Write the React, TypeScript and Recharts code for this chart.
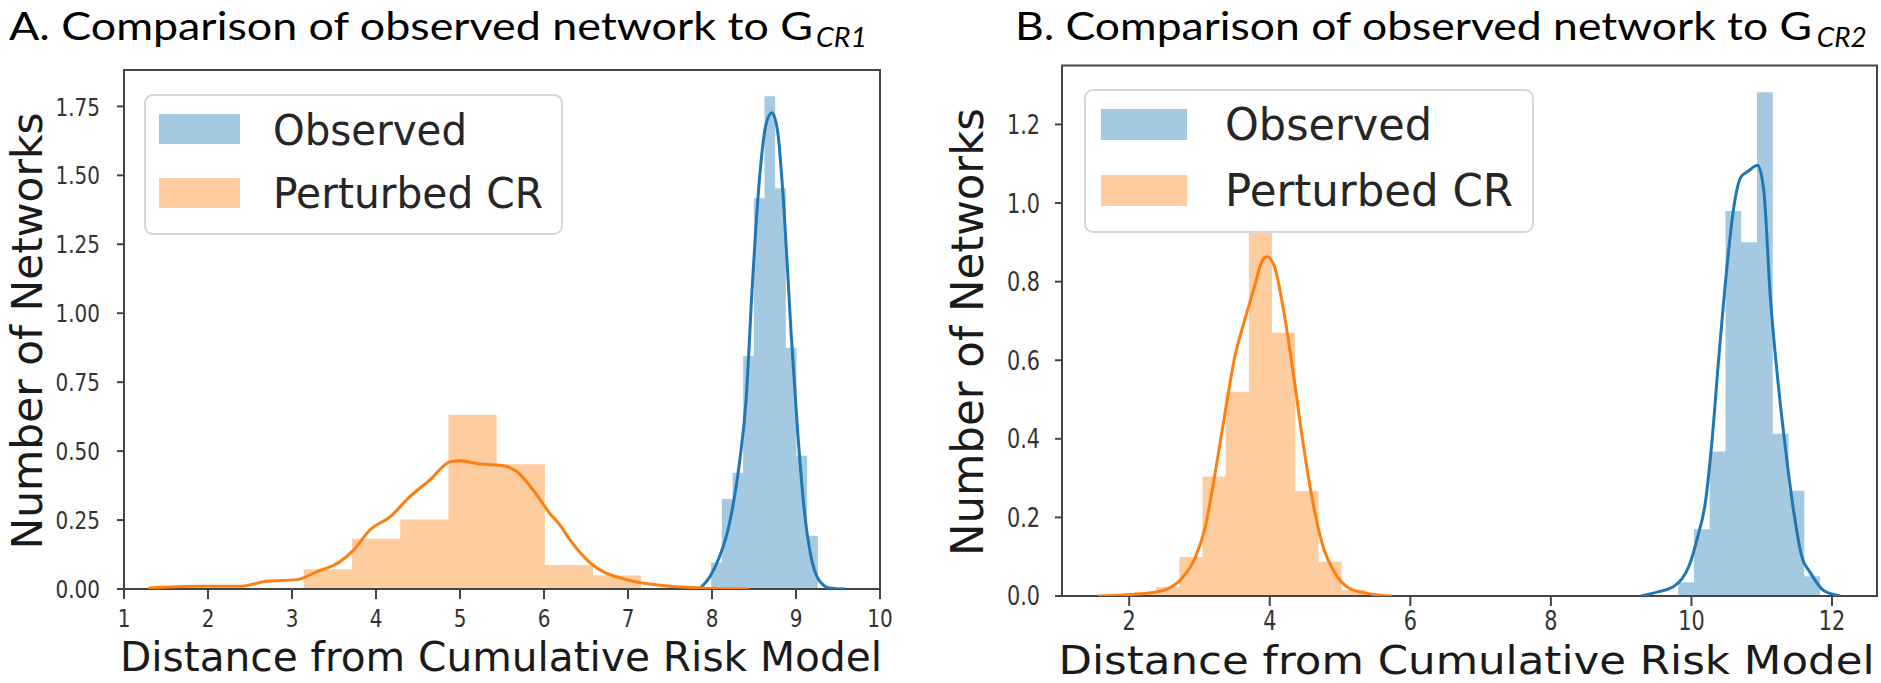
import React from "react";
import { ComposedChart, Area, Line, XAxis, YAxis, Legend, ReferenceArea } from "recharts";

const BLUE = "#1f77b4";
const ORANGE = "#ff7f0e";
const SPINE = "#444";
const MPL_FONT = "DejaVu Sans";

// ---- Panel A: observed vs G_CR1 ----
const aObsEdges = [7.99, 8.117, 8.244, 8.371, 8.498, 8.625, 8.752, 8.879, 9.006, 9.133, 9.26];
const aObsHeights = [0.096, 0.326, 0.422, 0.845, 1.417, 1.787, 1.453, 0.875, 0.483, 0.193];
const aPertEdges = [3.14, 3.714, 4.288, 4.862, 5.436, 6.01, 6.584, 7.158];
const aPertHeights = [0.072, 0.182, 0.252, 0.632, 0.452, 0.087, 0.049];

const aObsKdeX = [7.85, 7.97, 8.087, 8.206, 8.325, 8.405, 8.483, 8.563, 8.643, 8.714, 8.781, 8.861, 8.94, 9.019, 9.099, 9.18, 9.277, 9.396, 9.59];
const aObsKdeY = [0, 0.042, 0.115, 0.235, 0.453, 0.682, 1.117, 1.479, 1.685, 1.727, 1.66, 1.359, 0.936, 0.574, 0.284, 0.115, 0.03, 0.004, 0];
const aPertKdeX = [1.29, 1.9, 2.38, 2.7, 3.06, 3.29, 3.57, 3.73, 3.93, 4.17, 4.4, 4.64, 4.88, 5.0, 5.24, 5.48, 5.68, 5.87, 6.07, 6.19, 6.31, 6.55, 6.98, 7.38, 7.86, 8.44];
const aPertKdeY = [0.004, 0.01, 0.01, 0.028, 0.034, 0.062, 0.099, 0.14, 0.215, 0.262, 0.334, 0.395, 0.461, 0.465, 0.453, 0.449, 0.425, 0.359, 0.274, 0.232, 0.178, 0.095, 0.034, 0.014, 0.004, 0];

const aXTicks = [1, 2, 3, 4, 5, 6, 7, 8, 9, 10];
const aYTicks = [0, 0.25, 0.5, 0.75, 1.0, 1.25, 1.5, 1.75];

// ---- Panel B: observed vs G_CR2 ----
const bObsEdges = [9.81, 10.035, 10.259, 10.484, 10.708, 10.933, 11.157, 11.382, 11.606, 11.831];
const bObsHeights = [0.035, 0.17, 0.368, 0.98, 0.9, 1.282, 0.413, 0.268, 0.05];
const bPertEdges = [2.053, 2.383, 2.713, 3.043, 3.373, 3.703, 4.033, 4.363, 4.693, 5.023, 5.353];
const bPertHeights = [0.008, 0.023, 0.099, 0.304, 0.52, 0.958, 0.67, 0.267, 0.087, 0.015];

const bObsKdeX = [9.28, 9.536, 9.725, 9.867, 9.962, 10.08, 10.2, 10.29, 10.39, 10.51, 10.6, 10.7, 10.815, 10.943, 11.03, 11.12, 11.22, 11.34, 11.455, 11.57, 11.69, 11.88, 12.12];
const bObsKdeY = [0, 0.011, 0.022, 0.044, 0.075, 0.145, 0.241, 0.39, 0.609, 0.846, 0.986, 1.065, 1.082, 1.096, 1.03, 0.767, 0.565, 0.372, 0.215, 0.1, 0.06, 0.014, 0];
const bPertKdeX = [1.55, 2.25, 2.53, 2.76, 2.94, 3.08, 3.22, 3.36, 3.5, 3.64, 3.78, 3.89, 3.96, 4.056, 4.19, 4.33, 4.47, 4.61, 4.75, 4.94, 5.12, 5.4, 5.745];
const bPertKdeY = [0, 0.007, 0.017, 0.047, 0.098, 0.174, 0.31, 0.462, 0.606, 0.7, 0.785, 0.852, 0.863, 0.844, 0.734, 0.573, 0.394, 0.242, 0.131, 0.055, 0.021, 0.006, 0];

const bXTicks = [2, 4, 6, 8, 10, 12];
const bYTicks = [0, 0.2, 0.4, 0.6, 0.8, 1.0, 1.2];

const seriesNames = ["Observed", "Perturbed CR"];
const xTitle = "Distance from Cumulative Risk Model";
const yTitle = "Number of Networks";

// histogram bins -> step points (last edge closes the bar)
const toSteps = (edges: number[], heights: number[]) =>
  edges.map((x, i) => ({ x, y: i < heights.length ? heights[i] : 0 }));
const toPoints = (xs: number[], ys: number[]) => xs.map((x, i) => ({ x, y: ys[i] }));

const XTick = ({ x, y, payload, fs, top }: any) => (
  <text
    transform={`translate(${x},${y + top + 0.729 * fs}) scale(0.8,1)`}
    textAnchor="middle"
    fontSize={fs}
    fontFamily={MPL_FONT}
    fill="#333"
  >
    {payload.value}
  </text>
);

const YTick = ({ x, y, payload, fs, digits }: any) => (
  <text
    transform={`translate(${x},${y + 0.3645 * fs}) scale(0.8,1)`}
    textAnchor="end"
    fontSize={fs}
    fontFamily={MPL_FONT}
    fill="#333"
  >
    {Number(payload.value).toFixed(digits)}
  </text>
);

const LegendBox = ({ w, h, patchX, patchW, blueY, orangeY, patchH, textX, base1, base2, fs, len1, len2 }: any) => (
  <svg width={w} height={h} style={{ display: "block" }}>
    <rect x={1} y={1} width={w - 2} height={h - 2} rx={8} fill="#fff" stroke="#d6d6d6" strokeWidth={2} />
    <rect x={patchX} y={blueY} width={patchW} height={patchH} fill={BLUE} fillOpacity={0.4} />
    <rect x={patchX} y={orangeY} width={patchW} height={patchH} fill={ORANGE} fillOpacity={0.4} />
    <text x={textX} y={base1} fontSize={fs} fontFamily={MPL_FONT} fill="#262626" textLength={len1} lengthAdjust="spacingAndGlyphs">
      {seriesNames[0]}
    </text>
    <text x={textX} y={base2} fontSize={fs} fontFamily={MPL_FONT} fill="#262626" textLength={len2} lengthAdjust="spacingAndGlyphs">
      {seriesNames[1]}
    </text>
  </svg>
);

const Panel = ({ p }: any) => (
  <ComposedChart width={p.width} height={683} margin={p.margin}>
    <XAxis
      type="number"
      dataKey="x"
      domain={p.xDomain}
      ticks={p.xTicks}
      allowDataOverflow
      axisLine={false}
      tickLine={{ stroke: SPINE, strokeWidth: 2 }}
      tickSize={10}
      tickMargin={0}
      height={p.xAxisHeight}
      tick={(t: any) => <XTick {...t} fs={p.tickFs} top={p.xTickTop} />}
      label={() => (
        <text
          x={p.xLabel.cx}
          y={p.xLabel.base}
          textAnchor="middle"
          fontSize={p.xLabel.fs}
          fontFamily={MPL_FONT}
          fill="#1a1a1a"
          textLength={p.xLabel.len}
          lengthAdjust="spacingAndGlyphs"
        >
          {xTitle}
        </text>
      )}
    />
    <YAxis
      type="number"
      domain={p.yDomain}
      ticks={p.yTicks}
      allowDataOverflow
      axisLine={false}
      tickLine={{ stroke: SPINE, strokeWidth: 2 }}
      tickSize={7}
      tickMargin={p.yTickMargin}
      width={p.yAxisWidth}
      tick={(t: any) => <YTick {...t} fs={p.tickFs} digits={p.yDigits} />}
      label={() => (
        <text
          transform={`translate(${p.yLabel.bx},${p.yLabel.cy}) rotate(-90)`}
          textAnchor="middle"
          fontSize={p.yLabel.fs}
          fontFamily={MPL_FONT}
          fill="#1a1a1a"
          textLength={p.yLabel.len}
          lengthAdjust="spacingAndGlyphs"
        >
          {yTitle}
        </text>
      )}
    />
    <Area data={toSteps(p.obsEdges, p.obsHeights)} dataKey="y" type="stepAfter" name={seriesNames[0]} fill={BLUE} fillOpacity={0.4} stroke="none" isAnimationActive={false} />
    <Line data={toPoints(p.obsKdeX, p.obsKdeY)} dataKey="y" type="monotone" stroke={BLUE} strokeWidth={3} dot={false} legendType="none" isAnimationActive={false} />
    <Area data={toSteps(p.pertEdges, p.pertHeights)} dataKey="y" type="stepAfter" name={seriesNames[1]} fill={ORANGE} fillOpacity={0.4} stroke="none" isAnimationActive={false} />
    <Line data={toPoints(p.pertKdeX, p.pertKdeY)} dataKey="y" type="monotone" stroke={ORANGE} strokeWidth={3} dot={false} legendType="none" isAnimationActive={false} />
    <ReferenceArea x1={p.xDomain[0]} x2={p.xDomain[1]} y1={p.yDomain[0]} y2={p.yDomain[1]} fill="none" stroke={SPINE} strokeWidth={2} />
    <Legend
      layout="horizontal"
      verticalAlign="middle"
      align="center"
      wrapperStyle={{ left: p.legend.left, top: p.legend.top, width: p.legend.w, height: p.legend.h, margin: 0 }}
      content={() => <LegendBox {...p.legend} />}
    />
  </ComposedChart>
);

const panelA = {
  width: 940,
  margin: { top: 70, right: 60, bottom: 0, left: 0 },
  xAxisHeight: 94,
  yAxisWidth: 124,
  yTickMargin: 17,
  xDomain: [1, 10],
  yDomain: [0, 1.882],
  xTicks: aXTicks,
  yTicks: aYTicks,
  yDigits: 2,
  tickFs: 25,
  xTickTop: 10,
  obsEdges: aObsEdges,
  obsHeights: aObsHeights,
  pertEdges: aPertEdges,
  pertHeights: aPertHeights,
  obsKdeX: aObsKdeX,
  obsKdeY: aObsKdeY,
  pertKdeX: aPertKdeX,
  pertKdeY: aPertKdeY,
  xLabel: { cx: 501, base: 671, fs: 41, len: 762 },
  yLabel: { bx: 42, cy: 331, fs: 42, len: 437 },
  legend: { left: 144, top: 94, w: 419, h: 141, patchX: 15, patchW: 81, blueY: 20, orangeY: 84, patchH: 30, textX: 129, base1: 50.5, base2: 114, fs: 42, len1: 194, len2: 270 },
};

const panelB = {
  width: 941,
  margin: { top: 65.5, right: 4, bottom: 0, left: 0 },
  xAxisHeight: 87,
  yAxisWidth: 122,
  yTickMargin: 15,
  xDomain: [1.044, 12.64],
  yDomain: [0, 1.35],
  xTicks: bXTicks,
  yTicks: bYTicks,
  yDigits: 1,
  tickFs: 26,
  xTickTop: 5.5,
  obsEdges: bObsEdges,
  obsHeights: bObsHeights,
  pertEdges: bPertEdges,
  pertHeights: bPertHeights,
  obsKdeX: bObsKdeX,
  obsKdeY: bObsKdeY,
  pertKdeX: bPertKdeX,
  pertKdeY: bPertKdeY,
  xLabel: { cx: 526.5, base: 673.5, fs: 39.5, len: 816 },
  yLabel: { bx: 43, cy: 332, fs: 44, len: 448 },
  legend: { left: 144, top: 88.6, w: 450, h: 144, patchX: 17, patchW: 86, blueY: 20, orangeY: 86, patchH: 31, textX: 141, base1: 51.4, base2: 117.4, fs: 44, len1: 207, len2: 288 },
};

export default function App() {
  return (
    <div style={{ position: "absolute", left: 0, top: 0, width: 1881, height: 683, background: "#fff", overflow: "hidden" }}>
      <div style={{ position: "absolute", left: 0, top: 0 }}>
        <Panel p={panelA} />
      </div>
      <div style={{ position: "absolute", left: 940, top: 0 }}>
        <Panel p={panelB} />
      </div>
      <svg width={1881} height={60} style={{ position: "absolute", left: 0, top: 0, pointerEvents: "none" }}>
        <g fontFamily="Lato" fill="#000">
          <text x={9} y={39.5} fontSize={39} textLength={804} lengthAdjust="spacingAndGlyphs">
            A. Comparison of observed network to G
          </text>
          <text x={816} y={47} fontSize={27} fontStyle="italic" textLength={51} lengthAdjust="spacingAndGlyphs">
            CR1
          </text>
          <text x={1015} y={39.5} fontSize={39} textLength={797} lengthAdjust="spacingAndGlyphs">
            B. Comparison of observed network to G
          </text>
          <text x={1816.7} y={47} fontSize={27} fontStyle="italic" textLength={50} lengthAdjust="spacingAndGlyphs">
            CR2
          </text>
        </g>
      </svg>
    </div>
  );
}
